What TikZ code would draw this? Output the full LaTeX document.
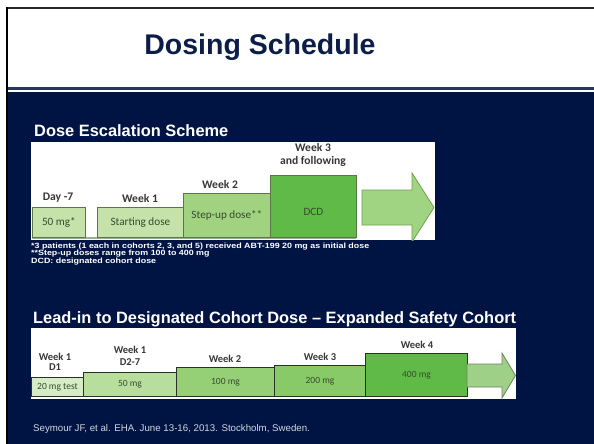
\documentclass[tikz,border=0pt]{standalone}
\usepackage{fontspec}
\setmainfont{Liberation Sans}
\newfontfamily\calibri{Carlito}
\newfontfamily\footfont[FakeStretch=1.17]{Liberation Sans}

\definecolor{navy}{RGB}{0,20,68}
\definecolor{titlecol}{RGB}{12,30,72}
\definecolor{topline}{RGB}{40,40,40}
\definecolor{paleA}{RGB}{196,226,170}
\definecolor{stepA}{RGB}{160,210,128}
\definecolor{dcdA}{RGB}{96,186,72}
\definecolor{arrowA}{RGB}{160,212,130}
\definecolor{arrowAline}{RGB}{110,160,80}
\definecolor{lineA}{RGB}{90,120,70}
\definecolor{labeltext}{RGB}{55,55,55}
\definecolor{boxtext}{RGB}{55,75,45}
\definecolor{greenB1}{RGB}{214,236,198}
\definecolor{greenB2}{RGB}{184,222,158}
\definecolor{greenB3}{RGB}{150,208,118}
\definecolor{greenB4}{RGB}{136,201,104}
\definecolor{greenB5}{RGB}{96,186,72}
\definecolor{lineB}{RGB}{40,50,35}
\definecolor{arrowB}{RGB}{158,208,136}
\definecolor{arrowBline}{RGB}{110,130,100}
\definecolor{citecol}{RGB}{210,214,222}

\begin{document}
\begin{tikzpicture}[x=1pt,y=-1pt,
  doseA/.style={draw=lineA, line width=0.8pt, inner sep=0pt, anchor=south west,
    text=boxtext, font=\calibri\fontsize{11.2}{13}\selectfont},
  doseB/.style={draw=lineB, line width=1pt, inner sep=0pt, anchor=south west,
    text=boxtext, font=\calibri\fontsize{9.5}{10}\selectfont},
  weeklabel/.style={inner sep=0pt, align=center, text=labeltext,
    font=\calibri\bfseries\fontsize{11.6}{13}\selectfont},
  weeklabelB/.style={weeklabel, font=\calibri\bfseries\fontsize{10.5}{12}\selectfont},
  heading/.style={inner sep=0pt, anchor=base west, text=white,
    font=\bfseries\fontsize{16.4}{19}\selectfont},
  footnote/.style={inner sep=0pt, anchor=base west, text=white,
    font=\footfont\bfseries\fontsize{7.6}{8}\selectfont},
  bigarrow/.style={line width=0.8pt, line join=miter}
]
\useasboundingbox (0,0) rectangle (594,444);

% slide frame: title band and navy body
\fill[white] (0,0) rectangle (594,444);
\fill[navy] (7,91.5) rectangle (594,444);
\fill[navy!85!white] (7,86.8) rectangle (594,89.8);
\fill[topline] (6,6.8) rectangle (594,9.2);
\fill[black] (6,6.8) rectangle (8.2,444);

\node[inner sep=0pt, anchor=base, text=titlecol,
  font=\bfseries\fontsize{28.5}{32}\selectfont] (title) at (260,54.5) {Dosing Schedule};

% ---------- dose escalation scheme ----------
\node[heading] (headA) at (34,136) {Dose Escalation Scheme};
\fill[white] (31,142) rectangle (435,240);

\begin{scope}
\clip (31,142) rectangle (435,240);
\draw[lineA!60!white, line width=1.5pt] (32,238) -- (356,238);
\node[doseA, fill=paleA, minimum width=53pt, minimum height=30pt] (a1) at (32,238) {50 mg*};
\node[doseA, fill=paleA, minimum width=86pt, minimum height=30pt] (a2) at (97,238) {Starting dose};
\node[doseA, fill=stepA, minimum width=87pt, minimum height=44pt] (a3) at (183,238) {Step-up dose**};
\node[doseA, fill=dcdA, minimum width=86pt, minimum height=62pt] (a4) at (270,238) {\raisebox{-5pt}[\height][\depth]{DCD}};
\draw[bigarrow, draw=arrowAline, fill=arrowA]
  (362,190) -- (412,190) -- (412,173) -- (434,207.5) -- (412,242) -- (412,225) -- (362,225) -- cycle;
\end{scope}

\node[weeklabel] (la1) at (58,198) {Day -7};
\node[weeklabel] (la2) at (140,198) {Week 1};
\node[weeklabel] (la3) at (220,184.5) {Week 2};
\node[weeklabel] (la4) at (313,155) {Week 3\\and following};

\node[footnote] (fn1) at (31,248) {*3 patients (1 each in cohorts 2, 3, and 5) received ABT-199 20 mg as initial dose};
\node[footnote] (fn2) at (31,255.5) {**Step-up doses range from 100 to 400 mg};
\node[footnote] (fn3) at (31,263) {DCD: designated cohort dose};

% ---------- lead-in to designated cohort dose ----------
\node[heading] (headB) at (33,323) {Lead-in to Designated Cohort Dose -- Expanded Safety Cohort};
\fill[white] (31,328) rectangle (516,399);

\begin{scope}
\clip (31,328) rectangle (516,399);
\node[doseB, fill=greenB1, minimum width=52pt, minimum height=19pt] (b1) at (31,397) {20 mg test};
\node[doseB, fill=greenB2, minimum width=93pt, minimum height=24pt] (b2) at (83,397) {50 mg};
\node[doseB, fill=greenB3, minimum width=98pt, minimum height=29pt] (b3) at (176,397) {100 mg};
\node[doseB, fill=greenB4, minimum width=91pt, minimum height=31pt] (b4) at (274,397) {200 mg};
\node[doseB, fill=greenB5, minimum width=102pt, minimum height=43pt] (b5) at (365,397) {400 mg};
\draw[bigarrow, draw=arrowBline, fill=arrowB]
  (467,364) -- (502,364) -- (502,353) -- (515.5,375.5) -- (502,398) -- (502,387) -- (467,387) -- cycle;
\end{scope}

\node[weeklabelB, font=\calibri\bfseries\fontsize{10.5}{10}\selectfont] (lb1) at (55,361.5) {Week 1\\D1};
\node[weeklabelB] (lb2) at (130,356) {Week 1\\D2-7};
\node[weeklabelB] (lb3) at (225,359) {Week 2};
\node[weeklabelB] (lb4) at (320,357) {Week 3};
\node[weeklabelB] (lb5) at (417,345) {Week 4};

% ---------- reference ----------
\node[inner sep=0pt, anchor=base west, text=citecol,
  font=\fontsize{9.7}{11}\selectfont] (cite) at (33,431) {Seymour JF, et al. EHA. June 13-16, 2013. Stockholm, Sweden.};
\end{tikzpicture}
\end{document}
